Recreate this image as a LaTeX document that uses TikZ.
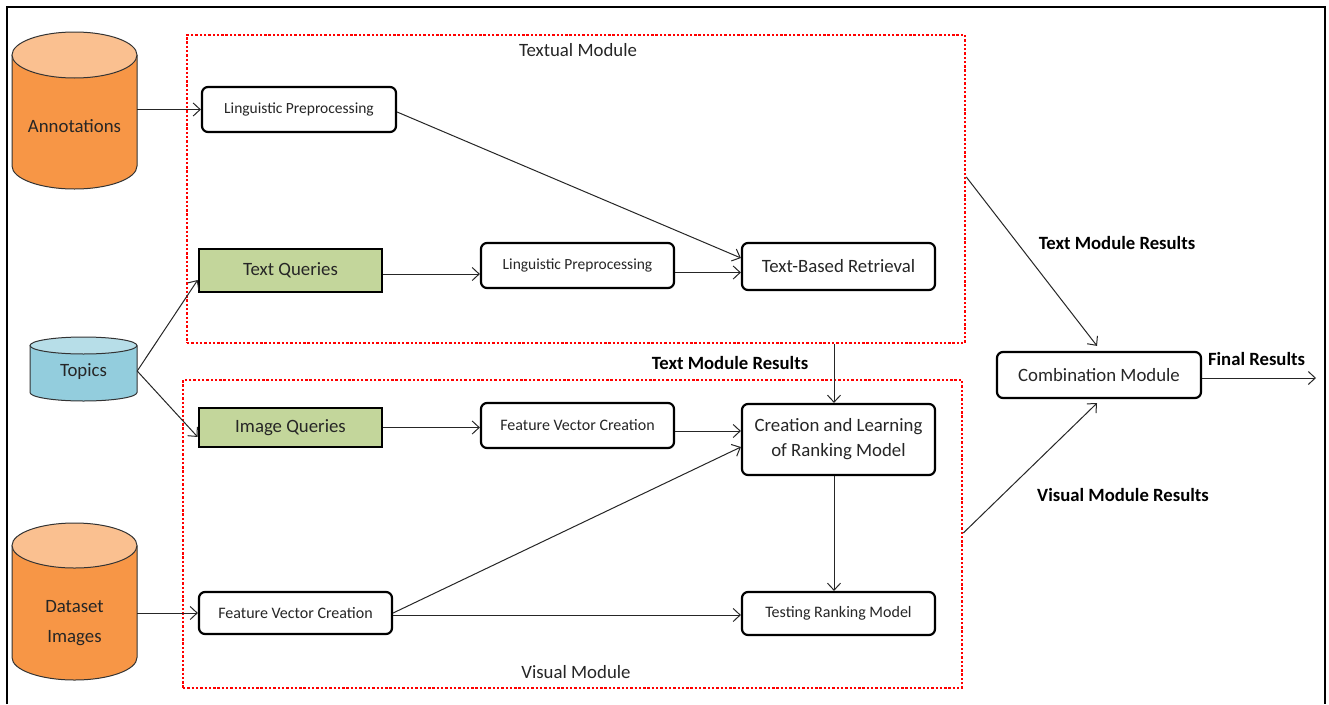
\documentclass[tikz,border=0pt]{standalone}
\usepackage{fontspec}
\setmainfont{Carlito}
\usetikzlibrary{arrows.meta,calc}
\definecolor{orgbody}{HTML}{F79646}
\definecolor{orgtop}{HTML}{FAC090}
\definecolor{bluebody}{HTML}{93CDDD}
\definecolor{bluetop}{HTML}{B7DEE8}
\definecolor{qgreen}{HTML}{C3D69B}
\definecolor{txt}{HTML}{262626}
\newcommand{\dbcyl}[7]{%
  \fill[#6] (#1-#4,#2) -- (#1-#4,#3) arc[start angle=180,end angle=360,x radius=#4,y radius=#5] -- (#1+#4,#2) arc[start angle=0,end angle=-180,x radius=#4,y radius=#5] -- cycle;
  \draw[cylline] (#1-#4,#2) -- (#1-#4,#3) arc[start angle=180,end angle=360,x radius=#4,y radius=#5] -- (#1+#4,#2);
  \filldraw[cylline,fill=#7] (#1,#2) ellipse[x radius=#4,y radius=#5];}
\tikzset{
  cylline/.style={draw=black!80,line width=1pt},
  bigf/.style={font=\fontsize{18.8pt}{25pt}\selectfont},
  smallf/.style={font=\fontsize{15.5pt}{18pt}\selectfont},
  midf/.style={font=\fontsize{16pt}{19pt}\selectfont},
  boldf/.style={font=\fontsize{18.7pt}{22pt}\selectfont\bfseries},
  procbox/.style={draw=black,line width=2.2pt,rounded corners=6pt,fill=white,inner sep=0pt,align=center,text=txt},
  qbox/.style={draw=black,line width=2.6pt,fill=qgreen,inner sep=0pt,align=center,text=txt,bigf},
  cyltext/.style={inner sep=0pt,align=center,text=txt,bigf},
  modbox/.style={draw=red,line width=2.6pt,dash pattern=on 2.4pt off 1.9pt,inner sep=0pt},
  arr/.style={draw=black!85,line width=1pt,-{Straight Barb[length=7pt,width=13pt]}},
  lbl/.style={inner sep=0pt,text=black,boldf}
}
\begin{document}
\begin{tikzpicture}[x=1pt,y=1pt]
\useasboundingbox (0,0) rectangle (1329,-704);
\fill[white] (0,0) rectangle (1329,-704);
% outer frame
\draw[line width=1.5pt,black] (7,-704) -- (7,-7) -- (1325,-7) -- (1325,-704);

% module frames
\node[modbox,minimum width=778pt,minimum height=308pt] (tm) at (576,-189) {};
\node[modbox,minimum width=779pt,minimum height=308pt] (vm) at (572.5,-534) {};
\node[bigf,text=txt,inner sep=0pt] (tmlbl) at (578,-50) {Textual Module};
\node[bigf,text=txt,inner sep=0pt] (vmlbl) at (576,-672) {Visual Module};

% cylinders
\dbcyl{74.5}{-55}{-166}{62.5}{23}{orgbody}{orgtop}
\node[cyltext,minimum width=125pt] (ann) at (74.5,-126) {Annotations};
\dbcyl{83.5}{-345.5}{-392.5}{53.5}{8.5}{bluebody}{bluetop}
\node[cyltext,minimum width=107pt] (top) at (83.5,-372) {Topics};
\dbcyl{74.5}{-545.5}{-657.5}{62.5}{22.5}{orgbody}{orgtop}
\node[cyltext,minimum width=125pt,font=\fontsize{18.8pt}{30pt}\selectfont] (ds) at (74.5,-623) {Dataset\\Images};

% process boxes
\node[procbox,smallf,minimum width=194pt,minimum height=45pt] (lp1) at (299,-109.5) {Linguistic Preprocessing};
\node[qbox,minimum width=183pt,minimum height=43pt] (tq) at (290.5,-270.5) {Text Queries};
\node[procbox,smallf,minimum width=193pt,minimum height=45pt] (lp2) at (577.5,-265.5) {Linguistic Preprocessing};
\node[procbox,bigf,minimum width=193pt,minimum height=47pt] (tbr) at (838.5,-266.5) {Text-Based Retrieval};
\node[qbox,minimum width=183pt,minimum height=39pt] (iq) at (290.5,-427.5) {Image Queries};
\node[procbox,midf,minimum width=193pt,minimum height=45pt] (fvc1) at (577.5,-425.5) {Feature Vector Creation};
\node[procbox,bigf,minimum width=193pt,minimum height=71pt] (cl) at (838.5,-439.5) {Creation and Learning\\of Ranking Model};
\node[procbox,midf,minimum width=193pt,minimum height=42pt] (fvc2) at (295.5,-613) {Feature Vector Creation};
\node[procbox,midf,minimum width=193pt,minimum height=43pt] (trm) at (838.5,-613.5) {Testing Ranking Model};
\node[procbox,bigf,minimum width=204pt,minimum height=46pt] (comb) at (1099,-375) {Combination Module};

% labels
\node[lbl] (tmr1) at (730,-363) {Text Module Results};
\node[lbl] (tmr2) at (1117,-243) {Text Module Results};
\node[lbl] (vmr) at (1123,-495) {Visual Module Results};
\node[lbl] (fin) at (1256.5,-359) {Final Results};

% connectors
\draw[arr] (ann.east |- lp1.west) -- (lp1.west);
\draw[arr] ([yshift=1pt]top.east) -- ([yshift=-9.5pt]tq.west);
\draw[arr] ([yshift=1pt]top.east) -- ([yshift=-9.5pt]iq.west);
\draw[arr] (ds.east |- fvc2.west) -- (fvc2.west);
\draw[arr] ([yshift=-2.5pt]lp1.east) -- ([yshift=8.5pt]tbr.west);
\coordinate (tqo) at ([yshift=-3.5pt]tq.east);
\draw[arr] (tqo) -- (tqo -| lp2.west);
\coordinate (lp2o) at ([yshift=-7pt]lp2.east);
\draw[arr] (lp2o) -- (lp2o -| tbr.west);
\coordinate (clin) at ([xshift=-4.5pt]cl.north);
\draw[arr] (clin |- tm.south) -- (clin);
\draw[arr] (iq.east) -- (iq.east -| fvc1.west);
\coordinate (fv1o) at ([yshift=-5.5pt]fvc1.east);
\draw[arr] (fv1o) -- (fv1o -| cl.west);
\draw[arr] (fvc2.east) -- ([yshift=-7.5pt]cl.west);
\coordinate (fv2o) at ([yshift=-2pt]fvc2.east);
\draw[arr] (fv2o) -- (fv2o -| trm.west);
\coordinate (clout) at ([xshift=-4.5pt]cl.south);
\draw[arr] (clout) -- (clout |- trm.north);
\draw[arr] ([yshift=12pt]tm.east) -- ([xshift=-2pt,yshift=5pt]comb.north);
\draw[arr] ([yshift=1pt]vm.east) -- ([xshift=-2pt,yshift=-4pt]comb.south);
\coordinate (combo) at ([yshift=-3pt]comb.east);
\coordinate (finend) at (1316,-378);
\draw[arr] (combo) -- (finend);
\end{tikzpicture}
\end{document}
